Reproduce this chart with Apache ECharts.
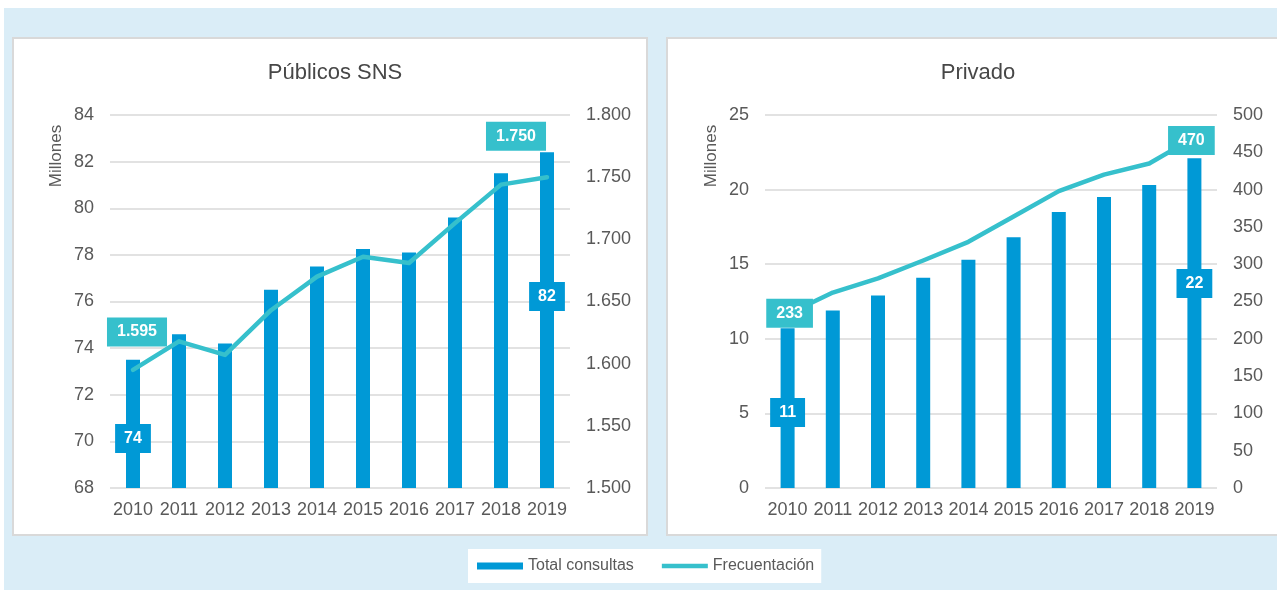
<!DOCTYPE html>
<html>
<head>
<meta charset="utf-8">
<script src="https://cdn.jsdelivr.net/npm/echarts@6/dist/echarts.min.js"></script>
<style>
body{margin:0;background:#fff;overflow:hidden;}
#bg{position:absolute;left:4px;top:8px;width:1273px;height:582px;background:#daedf7;}
.panel{position:absolute;top:37px;height:499px;background:#fff;border:2px solid #d9d9d9;box-sizing:border-box;}
#chart{position:absolute;left:0;top:0;width:1277px;height:590px;}
</style>
</head>
<body>
<div id="bg"></div>
<div class="panel" style="left:12px;width:636px;"></div>
<div class="panel" style="left:666px;width:620px;"></div>
<div id="chart"></div>
<script>
// ========= datos =========
const years = ['2010','2011','2012','2013','2014','2015','2016','2017','2018','2019'];
const publicoConsultas = [73.5, 74.6, 74.2, 76.5, 77.5, 78.25, 78.1, 79.6, 81.5, 82.4];
const publicoFrecuentacion = [1595, 1618, 1607, 1643, 1670, 1686, 1681, 1713, 1744, 1750];
const privadoConsultas = [10.7, 11.9, 12.9, 14.1, 15.3, 16.8, 18.5, 19.5, 20.3, 22.1];
const privadoFrecuentacion = [233, 262, 281, 305, 330, 364, 398, 420, 435, 470];

const FONT = '"Liberation Sans", Arial, sans-serif';
const GREY = '#595959';
const BLUE = '#0099d6';
const TEAL = '#36c0cc';

// separador de miles con punto
const miles = v => {
    const s = String(Math.round(v));
    return s.length > 3 ? s.slice(0, s.length - 3) + '.' + s.slice(s.length - 3) : s;
};

// ========= etiquetas =========
function barData(values, labels){
    return values.map((v, i) => {
        if (!(i in labels)) return v;
        return {
            value: v,
            label: {
                show: true, position: 'insideBottom', distance: labels[i],
                formatter: p => Math.round(p.value),
                color: '#fff', fontWeight: 'bold', fontSize: 16, fontFamily: FONT,
                backgroundColor: BLUE, padding: [6, 9], lineHeight: 17
            }
        };
    });
}

function lineData(values, labels, fmt){
    return values.map((v, i) => {
        if (!(i in labels)) return v;
        const l = labels[i];
        return {
            value: v,
            label: {
                show: true, position: l.pos, distance: l.dist || 5, offset: l.off,
                formatter: p => fmt(p.value),
                color: '#fff', fontWeight: 'bold', fontSize: 16, fontFamily: FONT,
                backgroundColor: TEAL, padding: [6, 10], lineHeight: 17
            }
        };
    });
}

const tick = {color: GREY, fontSize: 18, fontFamily: FONT};
const split = {show: true, lineStyle: {color: '#d9d9d9', width: 1.5}};

function catAxis(grid){
    return {
        gridIndex: grid, type: 'category', data: years,
        axisLine: {show: false}, axisTick: {show: false},
        axisLabel: Object.assign({interval: 0, margin: 13}, tick)
    };
}

function valAxis(grid, min, max, interval, right, fmt){
    return {
        gridIndex: grid, type: 'value', min, max, interval,
        position: right ? 'right' : 'left',
        axisLine: {show: false}, axisTick: {show: false},
        splitLine: right ? {show: false} : split,
        axisLabel: Object.assign({margin: 16, formatter: fmt}, tick)
    };
}

function millones(x){
    return {
        type: 'text', x, y: 156, rotation: Math.PI / 2,
        style: {text: 'Millones', fill: GREY, fontSize: 17, fontFamily: FONT, align: 'center', verticalAlign: 'middle'}
    };
}

const chart = echarts.init(document.getElementById('chart'));

chart.setOption({
    animation: false,
    textStyle: {fontFamily: FONT},
    title: [
        {text: 'Públicos SNS', left: 330, top: 57, textAlign: 'center',
         textStyle: {fontSize: 22, fontWeight: 'normal', color: '#474747', fontFamily: FONT}},
        {text: 'Privado', left: 973, top: 57, textAlign: 'center',
         textStyle: {fontSize: 22, fontWeight: 'normal', color: '#474747', fontFamily: FONT}}
    ],
    legend: {
        left: 468, top: 549, padding: [9, 7, 9, 9],
        itemWidth: 46, itemHeight: 7, itemGap: 28,
        backgroundColor: '#fff',
        textStyle: {fontSize: 16, color: GREY, fontFamily: FONT},
        data: [
            {name: 'Total consultas', icon: 'rect'},
            {name: 'Frecuentación', icon: 'path://M0,0H50V5H0Z'}
        ]
    },
    graphic: [millones(56), millones(711)],
    grid: [
        {left: 110, top: 115, width: 460, height: 373},
        {left: 765, top: 115, width: 452, height: 373}
    ],
    xAxis: [catAxis(0), catAxis(1)],
    yAxis: [
        valAxis(0, 68, 84, 2, false),
        valAxis(0, 1500, 1800, 50, true, miles),
        valAxis(1, 0, 25, 5, false),
        valAxis(1, 0, 500, 50, true)
    ],
    series: [
        {
            name: 'Total consultas', type: 'bar', xAxisIndex: 0, yAxisIndex: 0,
            barWidth: 14, itemStyle: {color: BLUE},
            data: barData(publicoConsultas, {0: 35, 9: 177})
        },
        {
            name: 'Frecuentación', type: 'line', xAxisIndex: 0, yAxisIndex: 1, z: 3,
            color: TEAL, symbol: 'circle', symbolSize: 1, showSymbol: true,
            lineStyle: {color: TEAL, width: 4.5, cap: 'round', join: 'round'},
            data: lineData(publicoFrecuentacion, {
                0: {pos: 'top', dist: 23, off: [4, 0]},
                9: {pos: 'top', dist: 26, off: [-31, 0]}
            }, miles)
        },
        {
            name: 'Total consultas', type: 'bar', xAxisIndex: 1, yAxisIndex: 2,
            barWidth: 14, itemStyle: {color: BLUE},
            data: barData(privadoConsultas, {0: 61, 9: 190})
        },
        {
            name: 'Frecuentación', type: 'line', xAxisIndex: 1, yAxisIndex: 3, z: 3,
            color: TEAL, symbol: 'circle', symbolSize: 1, showSymbol: true,
            lineStyle: {color: TEAL, width: 4.5, cap: 'round', join: 'round'},
            data: lineData(privadoFrecuentacion, {
                0: {pos: 'inside', off: [2, -1]},
                9: {pos: 'inside', off: [-3, 3]}
            }, v => String(Math.round(v)))
        }
    ]
});
</script>
</body>
</html>
